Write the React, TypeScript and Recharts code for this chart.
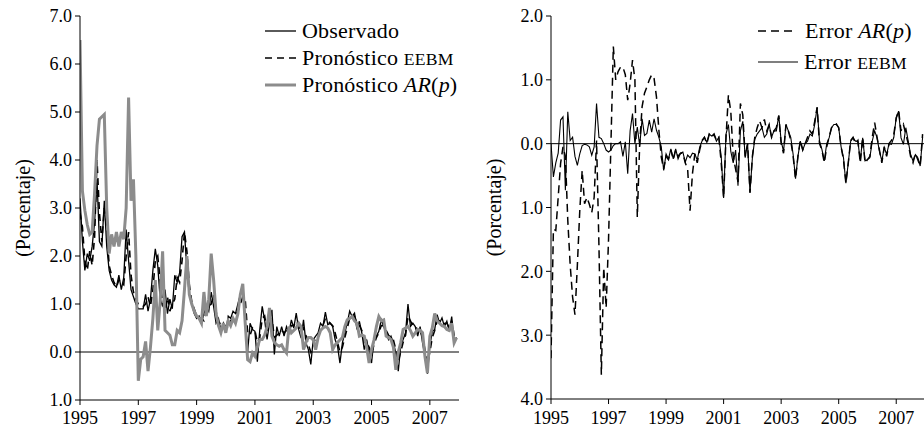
import React from 'react';
import { LineChart, Line, XAxis, YAxis, ReferenceLine, Legend, Label } from 'recharts';

const START_YEAR = 1995;
const xTicks = [1995, 1997, 1999, 2001, 2003, 2005, 2007];
const leftYTicks = [-1, 0, 1, 2, 3, 4, 5, 6, 7];
const rightYTicks = [-4, -3, -2, -1, 0, 1, 2];

const observado = [
  3.2, 2.3, 1.7, 2.05, 1.9, 2.2, 2.7, 3.6, 2.3, 2.2,
  3.15, 2.2, 1.7, 1.5, 1.4, 1.35, 1.6, 1.3, 1.55, 2.55,
  1.9, 1.3, 1.15, 1.0, 0.9, 0.9, 0.9, 1.2, 0.85, 1.1,
  1.7, 2.15, 1.8, 1.1, 0.95, 1.3, 0.8, 1.1, 0.9, 1.6,
  1.45, 1.65, 2.4, 2.5, 1.7, 1.2, 1.0, 0.8, 0.7, 0.75,
  0.6, 0.8, 0.95, 0.85, 1.25, 0.95, 0.6, 0.7, 0.45, 0.6,
  0.4, 0.75, 0.7, 0.85, 0.8, 1.0, 1.2, 1.3, 0.67, 0.0,
  0.6, 0.47, 0.43, -0.2, 0.47, 0.95, 0.67, 0.26, 0.6, 0.88,
  -0.05, 0.53, 0.33, 0.53, 0.33, 0.53, 0.4, 0.67, 0.5, 0.81,
  0.47, 0.29, 0.67, 0.19, 0.05, -0.26, 0.26, 0.33, 0.4, 0.6,
  0.53, 0.83, 0.57, 0.6, 0.53, 0.26, 0.12, -0.23, 0.19, 0.4,
  0.6, 0.85, 0.74, 0.81, 0.47, 0.64, 0.4, 0.05, 0.26, -0.02,
  -0.23, 0.26, 0.33, 0.43, 0.67, 0.53, 0.4, 0.26, 0.33, 0.19,
  -0.02, -0.4, 0.12, 0.26, 0.4, 1.0, 0.53, 0.6, 0.53, 0.33,
  0.53, 0.19, -0.09, -0.45, 0.12, 0.43, 0.47, 0.78, 0.6, 0.71,
  0.53, 0.64, 0.43, 0.74, 0.19, 0.3,
];

const pronosticoEEBM = [
  2.9, 2.6, 1.9, 1.7, 2.1, 1.8, 2.4, 4.0, 2.9, 2.3,
  3.0, 2.6, 1.8, 1.6, 1.45, 1.35, 1.5, 1.45, 1.4, 2.0,
  2.5, 1.6, 1.25, 1.1, 1.0, 0.95, 0.95, 1.0, 1.15, 0.95,
  1.3, 1.9, 2.0, 1.5, 1.0, 0.85, 1.15, 0.85, 1.0, 1.1,
  1.55, 1.45, 1.9, 2.5, 2.1, 1.4, 1.05, 0.9, 0.75, 0.7,
  0.7, 0.65, 0.85, 0.95, 1.0, 1.2, 0.85, 0.6, 0.6, 0.5,
  0.55, 0.5, 0.65, 0.7, 0.8, 0.85, 1.0, 1.15, 1.1, 0.4,
  0.35, 0.5, 0.45, 0.2, 0.3, 0.7, 0.75, 0.45, 0.5, 0.7,
  0.3, 0.35, 0.4, 0.45, 0.4, 0.45, 0.45, 0.55, 0.55, 0.65,
  0.55, 0.4, 0.5, 0.35, 0.15, 0.0, 0.15, 0.3, 0.35, 0.5,
  0.55, 0.7, 0.65, 0.6, 0.55, 0.4, 0.2, 0.0, 0.1, 0.3,
  0.5, 0.7, 0.75, 0.75, 0.6, 0.55, 0.45, 0.2, 0.2, 0.1,
  -0.05, 0.15, 0.3, 0.4, 0.55, 0.55, 0.45, 0.35, 0.3, 0.25,
  0.05, -0.2, 0.0, 0.2, 0.35, 0.75, 0.65, 0.55, 0.55, 0.4,
  0.45, 0.3, 0.05, -0.25, 0.0, 0.3, 0.45, 0.65, 0.65, 0.65,
  0.6, 0.6, 0.5, 0.65, 0.35, 0.25,
];

const pronosticoAR = [
  6.5, 3.35, 2.95, 2.65, 2.45, 2.5, 3.3, 4.3, 4.85, 4.9,
  4.95, 3.0, 2.05, 2.45, 2.2, 2.5, 2.2, 2.5, 2.35, 3.0,
  5.3, 3.15, 3.6, 2.0, -0.6, -0.15, -0.1, 0.22, -0.4, 0.1,
  0.7, 1.5, 0.45, 1.05, 2.1, 0.45, 0.4, 0.35, 0.15, 0.15,
  0.45, 0.4, 0.65, 1.3, 2.0, 1.2, 1.0, 0.85, 0.75, 0.7,
  0.6, 1.25, 0.75, 1.1, 2.05, 1.5, 0.8, 0.55, 0.4, 0.6,
  0.4, 0.65, 0.55, 0.7, 0.6, 0.8, 1.2, 1.42, 0.6, -0.16,
  -0.2, -0.02, -0.09, 0.1, 0.26, 0.26, 0.35, 0.53, 0.92, 0.33,
  0.2, 0.15, 0.12, 0.15, 0.05, -0.02, 0.53, 0.4, 0.45, 0.5,
  0.6, 0.53, 0.05, 0.2, 0.3, 0.3, 0.25, 0.05, 0.3, 0.45,
  0.5, 0.53, 0.5, 0.4, 0.05, 0.15, 0.2, 0.25, 0.3, 0.53,
  0.67, 0.7, 0.74, 0.65, 0.6, 0.33, 0.35, 0.33, 0.1, -0.23,
  0.05, 0.25, 0.53, 0.74, 0.65, 0.67, 0.33, 0.3, 0.26, 0.1,
  -0.37, 0.0, 0.19, 0.47, 0.5, 0.53, 0.45, 0.33, 0.4, 0.47,
  0.45, 0.4, -0.1, -0.44, 0.33, 0.5, 0.8, 0.65, 0.6, 0.55,
  0.53, 0.47, 0.45, 0.6, 0.19, 0.3,
];

const errorEEBM = [
  0.0, -0.52, -0.3, -0.15, 0.37, 0.42, -0.73, 0.5, 0.05, 0.1,
  -0.2, -0.34, -0.16, -0.03, -0.01, -0.02, -0.05, -0.18, -0.05, 0.63,
  0.1, 0.08, 0.0, -0.1, -0.13, -0.1, -0.03, 0.0, 0.0, 0.03,
  -0.2, 0.03, -0.47, 0.2, 0.47, 0.0, 0.26, -0.03, 0.39, 0.13,
  0.16, 0.37, 0.18, 0.39, 0.21, 0.1, -0.05, -0.42, -0.16, -0.24,
  -0.08, -0.24, -0.08, -0.24, -0.15, -0.13, -0.29, -0.18, -0.22, -0.15,
  -0.16, -0.26, -0.06, 0.04, 0.1, 0.02, 0.15, 0.12, 0.15, 0.04,
  0.1, -0.2, -0.85, 0.15, 0.3, -0.12, -0.3, -0.1, -0.66, 0.2,
  0.35, -0.22, 0.0, -0.77, -0.22, 0.07, 0.15, 0.2, 0.25, 0.1,
  0.15, 0.3, 0.1, 0.2, 0.2, 0.44, 0.04, -0.12, 0.3, 0.2,
  0.1, -0.17, -0.55, -0.2, 0.04, -0.1, 0.0, 0.04, 0.15, 0.12,
  0.3, 0.57, 0.04, -0.09, -0.27, 0.0, 0.09, 0.25, 0.3, 0.3,
  0.25, -0.05, -0.22, -0.62, -0.3, 0.04, 0.09, 0.04, 0.04, -0.27,
  0.09, -0.27, -0.25, -0.22, 0.04, 0.2, 0.09, -0.12, -0.27, -0.06,
  -0.17, 0.0, -0.01, 0.1, 0.41, 0.51, 0.09, -0.01, 0.25, 0.04,
  -0.17, -0.27, -0.17, -0.22, -0.35, 0.1,
];

const errorAR = [
  -3.36, -1.34, -1.36, -0.84, -0.31, -0.05, -0.2, -1.2, -1.9, -2.4,
  -2.68, -1.9, -1.05, -0.42, -0.94, -0.84, -0.95, -1.08, -0.84, 0.05,
  -1.6, -3.62, -1.94, -2.57, -1.5, 0.0, 1.52, 1.0, 1.13, 1.2,
  1.2, 1.08, 0.68, 0.94, 1.31, 1.0, -1.15, 0.0, 0.58, 0.79,
  0.89, 1.0, 1.08, 1.02, 0.73, 0.21, -0.21, -0.4, -0.2, -0.25,
  -0.1, -0.25, -0.1, -0.2, -0.15, -0.15, -0.3, -0.4, -1.05, -0.47,
  -0.16, -0.3, -0.1, 0.05, 0.1, 0.0, 0.15, 0.1, 0.15, 0.05,
  0.1, -0.3, -0.85, 0.1, 0.76, 0.5, -0.2, -0.4, -0.6, 0.63,
  0.45, -0.2, 0.0, -0.77, -0.2, 0.1, 0.25, 0.36, 0.25, 0.38,
  0.2, 0.3, 0.1, 0.2, 0.25, 0.44, 0.0, -0.15, 0.3, 0.2,
  0.05, -0.2, -0.55, -0.2, 0.05, -0.1, 0.0, 0.1, 0.2, 0.15,
  0.35, 0.57, 0.0, -0.1, -0.3, -0.05, 0.1, 0.25, 0.3, 0.31,
  0.25, -0.05, -0.25, -0.62, -0.3, 0.05, 0.1, 0.0, 0.05, -0.3,
  0.1, -0.3, -0.25, -0.2, 0.1, 0.33, 0.1, -0.1, -0.3, -0.05,
  -0.2, 0.0, 0.05, 0.15, 0.4, 0.52, 0.2, 0.3, 0.15, 0.0,
  -0.2, -0.3, -0.15, -0.25, -0.35, 0.15,
];

const FONT = "'Liberation Serif', 'Times New Roman', Times, 'DejaVu Serif', serif";
const GRAY = '#8c8c8c';

const leftData = observado.map((v, i) => ({
  t: START_YEAR + i / 12,
  obs: v,
  eebm: pronosticoEEBM[i],
  ar: pronosticoAR[i],
}));

const rightData = errorAR.map((v, i) => ({
  t: START_YEAR + i / 12,
  errAR: v,
  errEEBM: errorEEBM[i],
}));

const fmt = (v: number) => Math.abs(v).toFixed(1);

const tickStyle = { fill: '#000', fontSize: 18, fontFamily: FONT };

const AxisTitle = (props: any) => {
  const vb = props.viewBox || { x: 0, y: 0, width: 0, height: 0 };
  const cx = vb.x + 23;
  const cy = vb.y + vb.height / 2;
  return (
    <text
      x={cx}
      y={cy}
      transform={`rotate(-90 ${cx} ${cy})`}
      textAnchor="middle"
      dominantBaseline="central"
      style={{ fontFamily: FONT }}
      fontSize={20}
      fill="#000"
    >
      (Porcentaje)
    </text>
  );
};

const Sample = ({ color, width, dash, len }: { color: string; width: number; dash?: string; len: number }) => (
  <svg width={len} height={10} style={{ display: 'block', flex: 'none' }}>
    <line x1={0} y1={5} x2={len} y2={5} stroke={color} strokeWidth={width} strokeDasharray={dash} />
  </svg>
);

const rowStyle = (top: number, h: number): React.CSSProperties => ({
  position: 'absolute',
  left: 0,
  top,
  height: h,
  display: 'flex',
  alignItems: 'center',
  whiteSpace: 'nowrap',
  fontFamily: FONT,
  fontSize: 22,
  letterSpacing: 0.2,
  color: '#000',
  lineHeight: 1,
});

const LeftLegend = () => (
  <div style={{ position: 'relative', width: 240, height: 90 }}>
    <div style={rowStyle(0, 27)}>
      <Sample color="#000" width={1.3} len={31} />
      <span style={{ marginLeft: 6 }}>Observado</span>
    </div>
    <div style={rowStyle(27, 27)}>
      <Sample color="#000" width={1.6} dash="7 5" len={31} />
      <span style={{ marginLeft: 6 }}>
        Pronóstico <span style={{ fontSize: '0.8em' }}>EEBM</span>
      </span>
    </div>
    <div style={rowStyle(54, 27)}>
      <Sample color={GRAY} width={3} len={31} />
      <span style={{ marginLeft: 6 }}>
        Pronóstico <i>AR</i>(<i>p</i>)
      </span>
    </div>
  </div>
);

const RightLegend = () => (
  <div style={{ position: 'relative', width: 180, height: 70 }}>
    <div style={rowStyle(0, 31)}>
      <Sample color="#000" width={1.5} dash="8 5" len={38} />
      <span style={{ marginLeft: 9 }}>
        Error <i>AR</i>(<i>p</i>)
      </span>
    </div>
    <div style={rowStyle(31, 31)}>
      <Sample color="#000" width={1.1} len={40} />
      <span style={{ marginLeft: 6 }}>
        Error <span style={{ fontSize: '0.8em' }}>EEBM</span>
      </span>
    </div>
  </div>
);

export default function App() {
  return (
    <div
      style={{
        position: 'absolute',
        left: 0,
        top: 0,
        width: 924,
        height: 429,
        overflow: 'hidden',
        background: '#fff',
        fontFamily: FONT,
      }}
    >
      <div style={{ position: 'absolute', left: 0, top: 0 }}>
        <LineChart width={470} height={429} data={leftData} margin={{ top: 16, right: 11, bottom: 0, left: 0 }}>
          <XAxis
            type="number"
            dataKey="t"
            domain={[1995, 2008]}
            ticks={xTicks}
            height={29}
            tick={tickStyle}
            tickSize={5}
            tickMargin={6}
            axisLine={{ stroke: '#000' }}
            tickLine={{ stroke: '#000' }}
            allowDataOverflow
          />
          <YAxis
            type="number"
            domain={[-1, 7]}
            ticks={leftYTicks}
            tickFormatter={fmt}
            width={80}
            tick={tickStyle}
            tickSize={5}
            tickMargin={3}
            axisLine={{ stroke: '#000' }}
            tickLine={{ stroke: '#000' }}
            interval={0}
          >
            <Label content={AxisTitle} />
          </YAxis>
          <ReferenceLine y={0} stroke="#000" strokeWidth={1} />
          <Line type="linear" dataKey="obs" name="Observado" stroke="#000" strokeWidth={1.3} dot={false} isAnimationActive={false} />
          <Line type="linear" dataKey="eebm" name="Pronóstico EEBM" stroke="#000" strokeWidth={1.6} strokeDasharray="7 5" dot={false} isAnimationActive={false} />
          <Line type="linear" dataKey="ar" name="Pronóstico AR(p)" stroke={GRAY} strokeWidth={3} dot={false} isAnimationActive={false} />
          <Legend
            layout="vertical"
            align="center"
            verticalAlign="middle"
            wrapperStyle={{ position: 'absolute', left: 265, top: 17, width: 240, height: 90 }}
            content={() => <LeftLegend />}
          />
        </LineChart>
      </div>
      <div style={{ position: 'absolute', left: 471, top: 0 }}>
        <LineChart width={460} height={429} data={rightData} margin={{ top: 16, right: 6, bottom: 0, left: 0 }}>
          <XAxis
            type="number"
            dataKey="t"
            domain={[1995, 2008]}
            ticks={xTicks}
            height={30}
            tick={tickStyle}
            tickSize={5}
            tickMargin={7}
            axisLine={{ stroke: '#000' }}
            tickLine={{ stroke: '#000' }}
            allowDataOverflow
          />
          <YAxis
            type="number"
            domain={[-4, 2]}
            ticks={rightYTicks}
            tickFormatter={fmt}
            width={80}
            tick={tickStyle}
            tickSize={5}
            tickMargin={3}
            axisLine={{ stroke: '#000' }}
            tickLine={{ stroke: '#000' }}
            interval={0}
          >
            <Label content={AxisTitle} />
          </YAxis>
          <ReferenceLine y={0} stroke="#000" strokeWidth={1} />
          <Line type="linear" dataKey="errAR" name="Error AR(p)" stroke="#000" strokeWidth={1.5} strokeDasharray="8 5" dot={false} isAnimationActive={false} />
          <Line type="linear" dataKey="errEEBM" name="Error EEBM" stroke="#000" strokeWidth={1.1} dot={false} isAnimationActive={false} />
          <Legend
            layout="vertical"
            align="center"
            verticalAlign="middle"
            wrapperStyle={{ position: 'absolute', left: 287, top: 15, width: 180, height: 70 }}
            content={() => <RightLegend />}
          />
        </LineChart>
      </div>
    </div>
  );
}
